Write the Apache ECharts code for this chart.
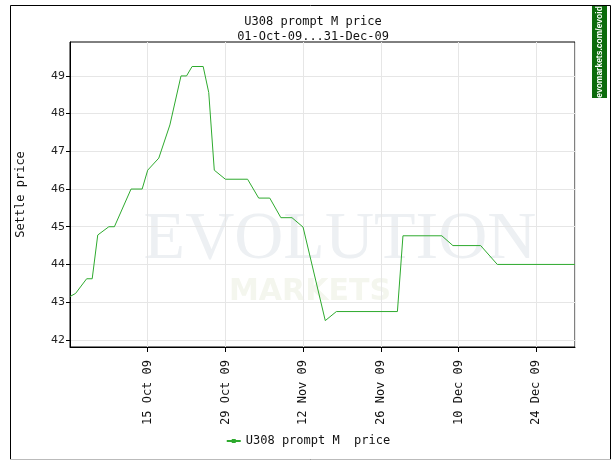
<!DOCTYPE html>
<html>
<head>
<meta charset="utf-8">
<script src="https://cdn.jsdelivr.net/npm/echarts@6/dist/echarts.min.js"></script>
<style>
  html, body { margin: 0; padding: 0; background: #fff; }
  #container { width: 616px; height: 460px; }
</style>
</head>
<body>
<div id="container"></div>
<script>
var startDate = '2009-10-01';
var dates = ['2009-10-01', '2009-10-02', '2009-10-04', '2009-10-05', '2009-10-06', '2009-10-08', '2009-10-09',
    '2009-10-12', '2009-10-14', '2009-10-15', '2009-10-17', '2009-10-19', '2009-10-21', '2009-10-22',
    '2009-10-23', '2009-10-25', '2009-10-26', '2009-10-27', '2009-10-29', '2009-11-02', '2009-11-04',
    '2009-11-06', '2009-11-08', '2009-11-10', '2009-11-12', '2009-11-16', '2009-11-18', '2009-11-29',
    '2009-11-30', '2009-12-07', '2009-12-09', '2009-12-14', '2009-12-17', '2009-12-31'];
var prices = [43.15, 43.23, 43.62, 43.62, 44.78, 45.0, 45.0,
    46.0, 46.0, 46.5, 46.82, 47.7, 49.0, 49.0,
    49.25, 49.25, 48.56, 46.5, 46.26, 46.26, 45.76,
    45.76, 45.24, 45.24, 44.99, 42.51, 42.75, 42.75,
    44.76, 44.76, 44.5, 44.5, 44.0, 44.0];
var yTicks = [42, 43, 44, 45, 46, 47, 48, 49];
var seriesName = 'U308 prompt M  price';

var DAY = 86400000;
var t0 = Date.parse(startDate);
var months = ['Jan', 'Feb', 'Mar', 'Apr', 'May', 'Jun', 'Jul', 'Aug', 'Sep', 'Oct', 'Nov', 'Dec'];

function dayLabel(d) {
    var dt = new Date(t0 + d * DAY);
    var dd = dt.getUTCDate();
    return (dd < 10 ? '0' + dd : dd) + ' ' + months[dt.getUTCMonth()] + ' ' + String(dt.getUTCFullYear()).slice(2);
}

var points = dates.map(function (s, i) {
    return [(Date.parse(s) - t0) / DAY, prices[i]];
});

var mono = 'DejaVu Sans Mono';
var myChart = echarts.init(document.getElementById('container'));

myChart.setOption({
    animation: false,
    title: {
        text: 'U308 prompt M price\n01-Oct-09...31-Dec-09',
        left: 308,
        textAlign: 'center',
        top: 9,
        textStyle: { fontFamily: mono, fontSize: 12, fontWeight: 'normal', color: '#111', lineHeight: 15 }
    },
    legend: {
        bottom: 8,
        left: 'center',
        itemWidth: 14,
        itemHeight: 5,
        itemGap: 4,
        textStyle: { fontFamily: mono, fontSize: 12, color: '#111' },
        data: [seriesName]
    },
    grid: { left: 70, top: 42, right: 41, bottom: 113, show: true, borderColor: '#000', borderWidth: 1 },
    xAxis: {
        type: 'value',
        min: 0,
        max: 91,
        interval: 14,
        axisLine: { lineStyle: { color: '#000' } },
        axisTick: { show: true, length: 5, lineStyle: { color: '#000' } },
        splitLine: { show: true, lineStyle: { color: '#e6e6e6' } },
        axisLabel: {
            rotate: 90,
            showMinLabel: false,
            showMaxLabel: false,
            fontFamily: mono,
            fontSize: 12,
            color: '#111',
            margin: 13,
            formatter: function (v) { return dayLabel(v); }
        }
    },
    yAxis: {
        type: 'value',
        min: 41.81,
        max: 49.9,
        name: 'Settle price',
        nameLocation: 'middle',
        nameGap: 43,
        nameTextStyle: { fontFamily: mono, fontSize: 12, color: '#111' },
        axisLine: { show: true, lineStyle: { color: '#000' } },
        axisTick: { show: true, length: 4, customValues: yTicks, lineStyle: { color: '#000' } },
        splitLine: { show: true, lineStyle: { color: '#e6e6e6' } },
        axisLabel: {
            customValues: yTicks,
            fontFamily: 'DejaVu Sans',
            fontSize: 11,
            color: '#222',
            margin: 5
        }
    },
    graphic: [
        { type: 'rect', silent: true, z: -10, shape: { x: 10.5, y: 5.5, width: 600, height: 454 },
          style: { fill: 'none', stroke: '#000', lineWidth: 1 } },
        { type: 'line', silent: true, z: -9, shape: { x1: 10, y1: 459.5, x2: 611, y2: 459.5 },
          style: { stroke: '#bbb', lineWidth: 1 } },
        { type: 'rect', silent: true, shape: { x: 592, y: 6, width: 15, height: 92 },
          style: { fill: '#0b6b0b' } },
        { type: 'text', silent: true, x: 599.5, y: 52, rotation: Math.PI / 2,
          style: { text: 'evomarkets.com/evoid', fill: '#fff', font: 'bold 8.5px "Liberation Sans"',
                   align: 'center', verticalAlign: 'middle' } },
        { type: 'text', silent: true, z: -5, x: 340, y: 240,
          style: { text: 'EVOLUTION', fill: '#edf0f3', font: '68px "Liberation Serif"',
                   align: 'center', verticalAlign: 'middle' } },
        { type: 'text', silent: true, z: -5, x: 310, y: 292,
          style: { text: 'MARKETS', fill: '#f4f6ee', font: 'bold 30px "DejaVu Sans"',
                   align: 'center', verticalAlign: 'middle' } }
    ],
    series: [{
        name: seriesName,
        type: 'line',
        data: points,
        symbol: 'rect',
        symbolSize: 3,
        showSymbol: false,
        lineStyle: { color: '#2eaa2e', width: 1 },
        itemStyle: { color: '#2eaa2e' }
    }]
});
</script>
</body>
</html>
